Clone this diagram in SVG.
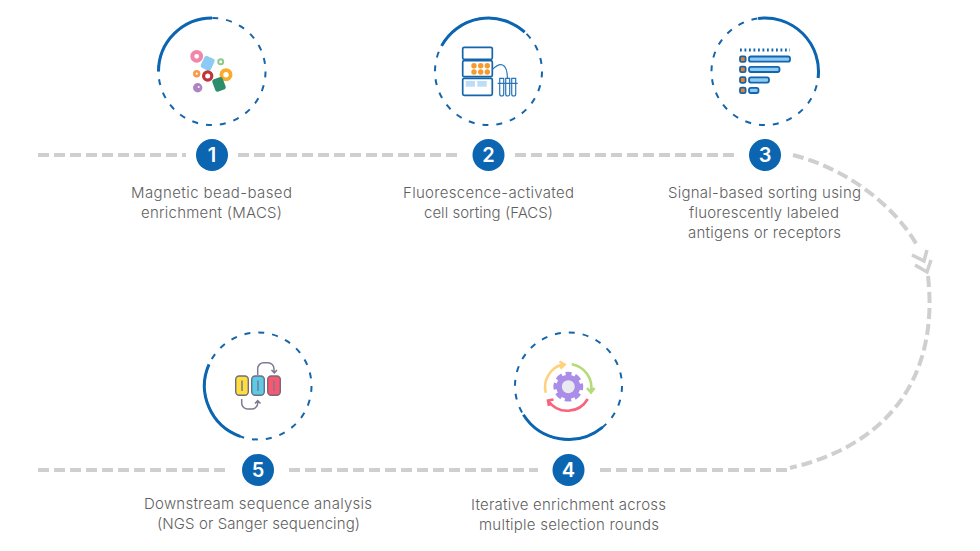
<svg xmlns="http://www.w3.org/2000/svg" width="980" height="551" viewBox="0 0 980 551">
<style>
.bg{fill:#fff}
.flow{fill:none;stroke:#cfcfcf;stroke-width:4;stroke-dasharray:11 5}
.chev{fill:none;stroke:#cfcfcf;stroke-width:3.5}
.ring{fill:none;stroke:#1565ab;stroke-width:2;stroke-dasharray:6 8}
.arc{fill:none;stroke:#0b65b0;stroke-width:3}
.badge{fill:#0b65b0}
.num{font-family:Inter,"Liberation Sans",sans-serif;font-weight:600;font-size:20px;fill:#fff;text-anchor:middle}
.lbl{font-family:Inter,"Open Sans",sans-serif;font-weight:300;font-size:15px;fill:#5f5f5f;text-anchor:middle}
.ic{fill:#fff;stroke:#1565ab;stroke-width:1.7}
.bar{fill:#8ccbf5;stroke:#1565ab;stroke-width:1.8}
.sq{fill:#f07f22;stroke:#1565ab;stroke-width:1.8}
.dot{fill:#f79a2e}
.pale{fill:#bcdcf8}
.thin{fill:none;stroke:#2a75b8;stroke-width:1.2}
.grey{fill:none;stroke:#7e7a92;stroke-width:1.5}
.pill{stroke:#6f6b80;stroke-width:1.4}
</style>
<rect class="bg" width="980" height="551"/>
<g id="connectors">
<path class="flow" d="M38 155H186"/>
<path class="flow" d="M238 155H462"/>
<path class="flow" d="M515 155H738"/>
<path class="flow" d="M793 155C845 168 895 205 918 247"/>
<path class="flow" d="M928 276C938 365 900 442 790 468"/>
<path class="flow" d="M600 470H790"/>
<path class="flow" d="M289 470H538"/>
<path class="flow" d="M38 470H228"/>
<path class="chev" d="M912 255L924 261L927 250"/>
<path class="chev" d="M915 265L927 272L931 260"/>
</g>
<g id="node-1">
<circle class="ring" cx="212" cy="71.5" r="53.5"/>
<path class="arc" d="M158.5 71.5A53.5 53.5 0 0 1 212 18"/>
<circle cx="196.7" cy="56.3" r="4.4" fill="#fff" stroke="#f286a8" stroke-width="4"/>
<rect x="202.2" y="56.8" width="11" height="13" rx="2.5" fill="#8ccbf5" transform="rotate(25 207.7 63.3)"/>
<circle cx="220.7" cy="61.7" r="2.5" fill="#fff" stroke="#8ccb8c" stroke-width="2"/>
<circle cx="196.7" cy="73.7" r="2.4" fill="#fff" stroke="#f79a4a" stroke-width="2.6"/>
<circle cx="207.7" cy="76" r="4.1" fill="#fff" stroke="#c0343a" stroke-width="3.2"/>
<circle cx="226" cy="74.7" r="4.6" fill="#fff" stroke="#f9ab2b" stroke-width="3.8"/>
<rect x="213.5" y="77.8" width="11" height="13" rx="2.5" fill="#2c8d6c" transform="rotate(-20 219 84.3)"/>
<circle cx="197.7" cy="87.7" r="4.7" fill="#b083c4"/><circle cx="198.7" cy="87" r="1" fill="#fff"/>
<circle class="badge" cx="212" cy="155" r="16"/>
<text class="num" x="212" y="162">1</text>
<text class="lbl" x="211.5" y="198" textLength="161">Magnetic bead-based</text>
<text class="lbl" x="211.5" y="218" textLength="141">enrichment (MACS)</text>
</g>
<g id="node-2">
<circle class="ring" cx="488.5" cy="71.5" r="53.5"/>
<path class="arc" d="M441.6 45.9A53.5 53.5 0 0 1 524.7 32.2"/>
<rect class="ic" x="462.7" y="47.3" width="29.6" height="12" rx="1.5"/>
<rect class="ic" x="462.7" y="60.7" width="29.6" height="16" rx="1.5"/>
<rect class="ic" x="462.7" y="78.3" width="29.6" height="17" rx="1.5"/>
<g class="dot"><circle cx="474" cy="65.7" r="2.7"/><circle cx="480.7" cy="65.7" r="2.7"/><circle cx="487.3" cy="65.7" r="2.7"/><circle cx="474" cy="72" r="2.7"/><circle cx="480.7" cy="72" r="2.7"/><circle cx="487.3" cy="72" r="2.7"/></g>
<rect class="pale" x="465.7" y="81" width="9.3" height="5.7"/><rect class="pale" x="477.3" y="81" width="9.4" height="5.7"/>
<path class="thin" d="M492.5 69.3C500 62 507 62 507.5 78.3"/>
<path class="thin" d="M499.7 78.3V94a2 2 0 0 0 4 0V78.3ZM505.7 78.3V94a2 2 0 0 0 4 0V78.3ZM511.7 78.3V94a2 2 0 0 0 4 0V78.3ZM497.7 83.3H517.7"/>
<circle class="badge" cx="488.5" cy="155" r="16"/>
<text class="num" x="488.5" y="162">2</text>
<text class="lbl" x="488.5" y="198" textLength="171">Fluorescence-activated</text>
<text class="lbl" x="488.5" y="218" textLength="129">cell sorting (FACS)</text>
</g>
<g id="node-3">
<circle class="ring" cx="765" cy="71.5" r="53.5"/>
<path class="arc" d="M758.1 18.4A53.5 53.5 0 0 1 818.1 78"/>
<path d="M740 50H790" fill="none" stroke="#1565ab" stroke-width="3" stroke-dasharray="1.8 2.7"/>
<rect class="sq" x="740" y="56.3" width="5.6" height="5.6" rx="1.5"/>
<rect class="sq" x="740" y="66.6" width="5.6" height="5.6" rx="1.5"/>
<rect class="sq" x="740" y="77.2" width="5.6" height="5.6" rx="1.5"/>
<rect class="sq" x="740" y="87.6" width="5.6" height="5.6" rx="1.5"/>
<rect class="bar" x="749" y="56.5" width="41" height="5.2" rx="2"/>
<rect class="bar" x="749" y="66.8" width="30.5" height="5.2" rx="2"/>
<rect class="bar" x="749" y="77.4" width="20" height="5.2" rx="2"/>
<rect class="bar" x="749" y="87.8" width="9.5" height="5.2" rx="2"/>
<circle class="badge" cx="765" cy="155" r="16"/>
<text class="num" x="765" y="162">3</text>
<text class="lbl" x="764.5" y="198" textLength="193">Signal-based sorting using</text>
<text class="lbl" x="764" y="218" textLength="150">fluorescently labeled</text>
<text class="lbl" x="764.5" y="238" textLength="153">antigens or receptors</text>
</g>
<g id="node-4">
<circle class="ring" cx="568.5" cy="386" r="53.5"/>
<path class="arc" d="M523.4 414.7A53.5 53.5 0 0 0 602.4 427.3"/>
<circle cx="568.3" cy="386.7" r="12.5" fill="none" stroke="#a98de8" stroke-width="4.8" stroke-dasharray="6.2 3.62" stroke-dashoffset="3.1" transform="rotate(-90 568.3 386.7)"/>
<circle cx="568.3" cy="386.7" r="12" fill="#a98de8"/>
<circle cx="568.3" cy="386.7" r="6.5" fill="#e9e9ef"/>
<path d="M545.7 392.7A23.5 23.5 0 0 1 563.3 364.3M559.5 361.5L564.5 364.5L560.5 368.5" fill="none" stroke="#fdd27a" stroke-width="2.6"/>
<path d="M571.7 364.3A23.5 23.5 0 0 1 591 391.7M587 388L591 392.5L594.5 388" fill="none" stroke="#b3dc78" stroke-width="2.6"/>
<path d="M587.7 399A23.5 23.5 0 0 1 548.3 401M553.5 399.5L548 400.5L549 406" fill="none" stroke="#f9637e" stroke-width="2.6"/>
<circle class="badge" cx="568.5" cy="470" r="16"/>
<text class="num" x="568.5" y="477">4</text>
<text class="lbl" x="568.5" y="510" textLength="195">Iterative enrichment across</text>
<text class="lbl" x="569" y="530" textLength="180">multiple selection rounds</text>
</g>
<g id="node-5">
<circle class="ring" cx="258" cy="386" r="53.5"/>
<path class="arc" d="M209 364.4A53.5 53.5 0 0 0 240.2 436.4"/>
<rect class="pill" x="235.7" y="376" width="12.6" height="19.3" rx="3.5" fill="#fede3c"/>
<rect class="pill" x="251.7" y="376" width="12.6" height="19.3" rx="3.5" fill="#5ccbe6"/>
<rect class="pill" x="267.7" y="376" width="12.6" height="19.3" rx="3.5" fill="#f9566f"/>
<path class="grey" d="M242 380.5V391M258 380.5V391M274 380.5V391"/>
<path class="grey" d="M257.7 375V368.5A6 6 0 0 1 263.7 362.7H268A6 6 0 0 1 274 368.7V372.5M271.5 370L274.3 373L277 370"/>
<path class="grey" d="M241.7 399V403A6 6 0 0 0 247.7 409H251.7A6 6 0 0 0 257.7 403V401M255 403.5L257.7 400.5L260.5 403.5"/>
<circle class="badge" cx="258" cy="470" r="16"/>
<text class="num" x="258" y="477">5</text>
<text class="lbl" x="258" y="509" textLength="228">Downstream sequence analysis</text>
<text class="lbl" x="258.5" y="529" textLength="203">(NGS or Sanger sequencing)</text>
</g>
</svg>
